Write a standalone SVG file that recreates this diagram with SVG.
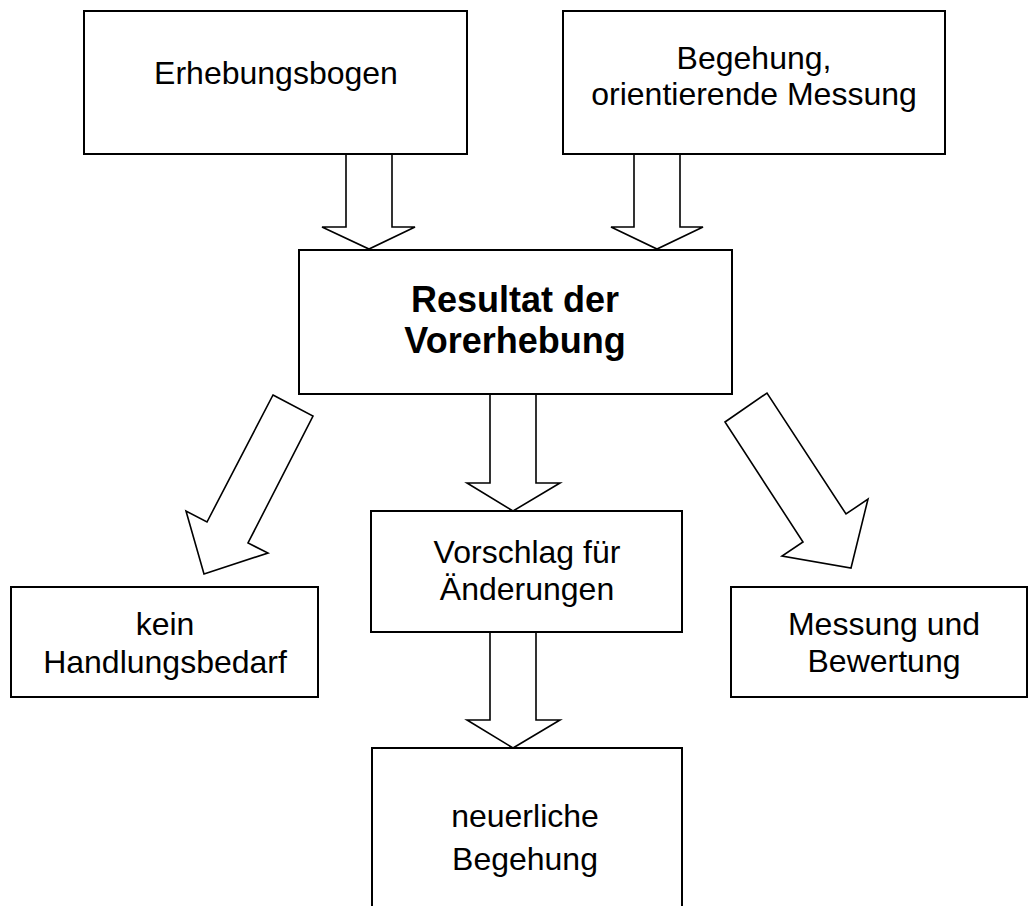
<svg xmlns="http://www.w3.org/2000/svg" width="1029" height="913" viewBox="0 0 1029 913">
  <style>
    .box { fill: #ffffff; stroke: #000000; stroke-width: 2; }
    .arrow { fill: #ffffff; stroke: #000000; stroke-width: 1.6; stroke-linejoin: miter; }
    text { font-family: "Liberation Sans", Arial, sans-serif; font-size: 32px; fill: #000000; text-anchor: middle; }
    text.bold { font-weight: bold; font-size: 36px; }
  </style>
  <rect width="1029" height="913" fill="#ffffff"/>

  <!-- block arrows -->
  <g id="connectors">
    <polygon class="arrow" points="346,154 392,154 392,227 415,227 369,249 322,227 346,227"/>
    <polygon class="arrow" points="634,154 680,154 680,227 703,227 657,249 611,227 634,227"/>
    <polygon class="arrow" points="490,394 536,394 536,483 560,483 513,511 467,483 490,483"/>
    <polygon class="arrow" points="490,632 536,632 536,720 560,720 513,748 467,720 490,720"/>
    <polygon class="arrow" points="273,395 313,416 248,543 268,553 204,574 186,511 207,522"/>
    <polygon class="arrow" points="725,422 767,393 846,514 868,499 851,568 782,556 803,542"/>
  </g>

  <g id="erhebungsbogen">
    <rect class="box" x="84" y="11" width="383" height="143"/>
    <text x="276" y="84">Erhebungsbogen</text>
  </g>

  <g id="begehung">
    <rect class="box" x="563" y="11" width="382" height="143"/>
    <text x="754" y="69">Begehung,</text>
    <text x="754" y="105">orientierende Messung</text>
  </g>

  <g id="resultat">
    <rect class="box" x="299" y="250" width="433" height="144"/>
    <text class="bold" x="515" y="312">Resultat der</text>
    <text class="bold" x="515" y="353">Vorerhebung</text>
  </g>

  <g id="kein-handlungsbedarf">
    <rect class="box" x="11" y="587" width="307" height="110"/>
    <text x="165" y="635">kein</text>
    <text x="165" y="673">Handlungsbedarf</text>
  </g>

  <g id="vorschlag">
    <rect class="box" x="371" y="511" width="311" height="121"/>
    <text x="527" y="563">Vorschlag für</text>
    <text x="527" y="600">Änderungen</text>
  </g>

  <g id="messung-bewertung">
    <rect class="box" x="731" y="587" width="296" height="110"/>
    <text x="884" y="635">Messung und</text>
    <text x="884" y="672">Bewertung</text>
  </g>

  <g id="neuerliche-begehung">
    <path class="box" d="M372,906 V748 H682 V906" fill="none"/>
    <text x="525" y="827">neuerliche</text>
    <text x="525" y="870">Begehung</text>
  </g>
</svg>
